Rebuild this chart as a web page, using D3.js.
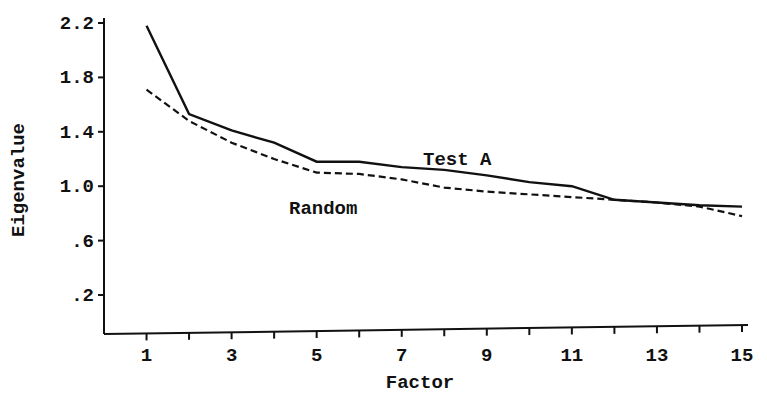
<!DOCTYPE html>
<html><head><meta charset="utf-8">
<script src="https://cdn.jsdelivr.net/npm/d3@7"></script>
<style>body{margin:0;background:#fff}text{font-family:"Liberation Mono","DejaVu Sans Mono",monospace;fill:#111;font-weight:bold}</style>
</head><body><svg id="c" width="767" height="402"></svg>
<script>
const factors=[1,2,3,4,5,6,7,8,9,10,11,12,13,14,15];
const testA=[2.18,1.53,1.41,1.32,1.18,1.18,1.14,1.12,1.08,1.03,1.0,0.90,0.88,0.86,0.85];
const random=[1.71,1.48,1.32,1.20,1.10,1.09,1.05,0.99,0.96,0.94,0.92,0.90,0.88,0.85,0.78];
const yTicks=[0.2,0.6,1.0,1.4,1.8,2.2];
const xTicks=[1,3,5,7,9,11,13,15];
const svg=d3.select("#c");
const x=d3.scaleLinear().domain([0,15]).range([104,742]);
const y=d3.scaleLinear().domain([0.2,2.2]).range([295,23]);
const base=334;
const fs=19;
const g=svg.append("g").attr("stroke","#111").attr("stroke-width",2);
g.append("line").attr("x1",x(0)).attr("x2",x(0)).attr("y1",18).attr("y2",base);
g.append("line").attr("x1",x(0)).attr("x2",748).attr("y1",base).attr("y2",base-9);
yTicks.forEach(t=>g.append("line").attr("x1",x(0)-6).attr("x2",x(0)).attr("y1",y(t)).attr("y2",y(t)));
d3.range(1,16).forEach(t=>{const yy=base-9*(x(t)-x(0))/(748-x(0));g.append("line").attr("x1",x(t)).attr("x2",x(t)).attr("y1",yy).attr("y2",yy+7);});
const fmt=v=>v<1?"."+Math.round(v*10):v.toFixed(1);
yTicks.forEach(t=>svg.append("text").attr("x",x(0)-10).attr("y",y(t)+6).attr("text-anchor","end").attr("font-size",fs).text(fmt(t)));
xTicks.forEach(t=>svg.append("text").attr("x",x(t)).attr("y",361).attr("text-anchor","middle").attr("font-size",fs).text(t));
svg.append("text").attr("x",420).attr("y",388).attr("text-anchor","middle").attr("font-size",fs).text("Factor");
svg.append("text").attr("transform","translate(24,180) rotate(-90)").attr("text-anchor","middle").attr("font-size",fs).text("Eigenvalue");
const line=d3.line().x((d,i)=>x(factors[i])).y(d=>y(d));
svg.append("path").datum(testA).attr("d",line).attr("fill","none").attr("stroke","#111").attr("stroke-width",2.4);
svg.append("path").datum(random).attr("d",line).attr("fill","none").attr("stroke","#111").attr("stroke-width",2.2).attr("stroke-dasharray","7,4");
svg.append("text").attr("x",423).attr("y",165).attr("font-size",fs).text("Test A");
svg.append("text").attr("x",289).attr("y",214).attr("font-size",fs).text("Random");
</script></body></html>
